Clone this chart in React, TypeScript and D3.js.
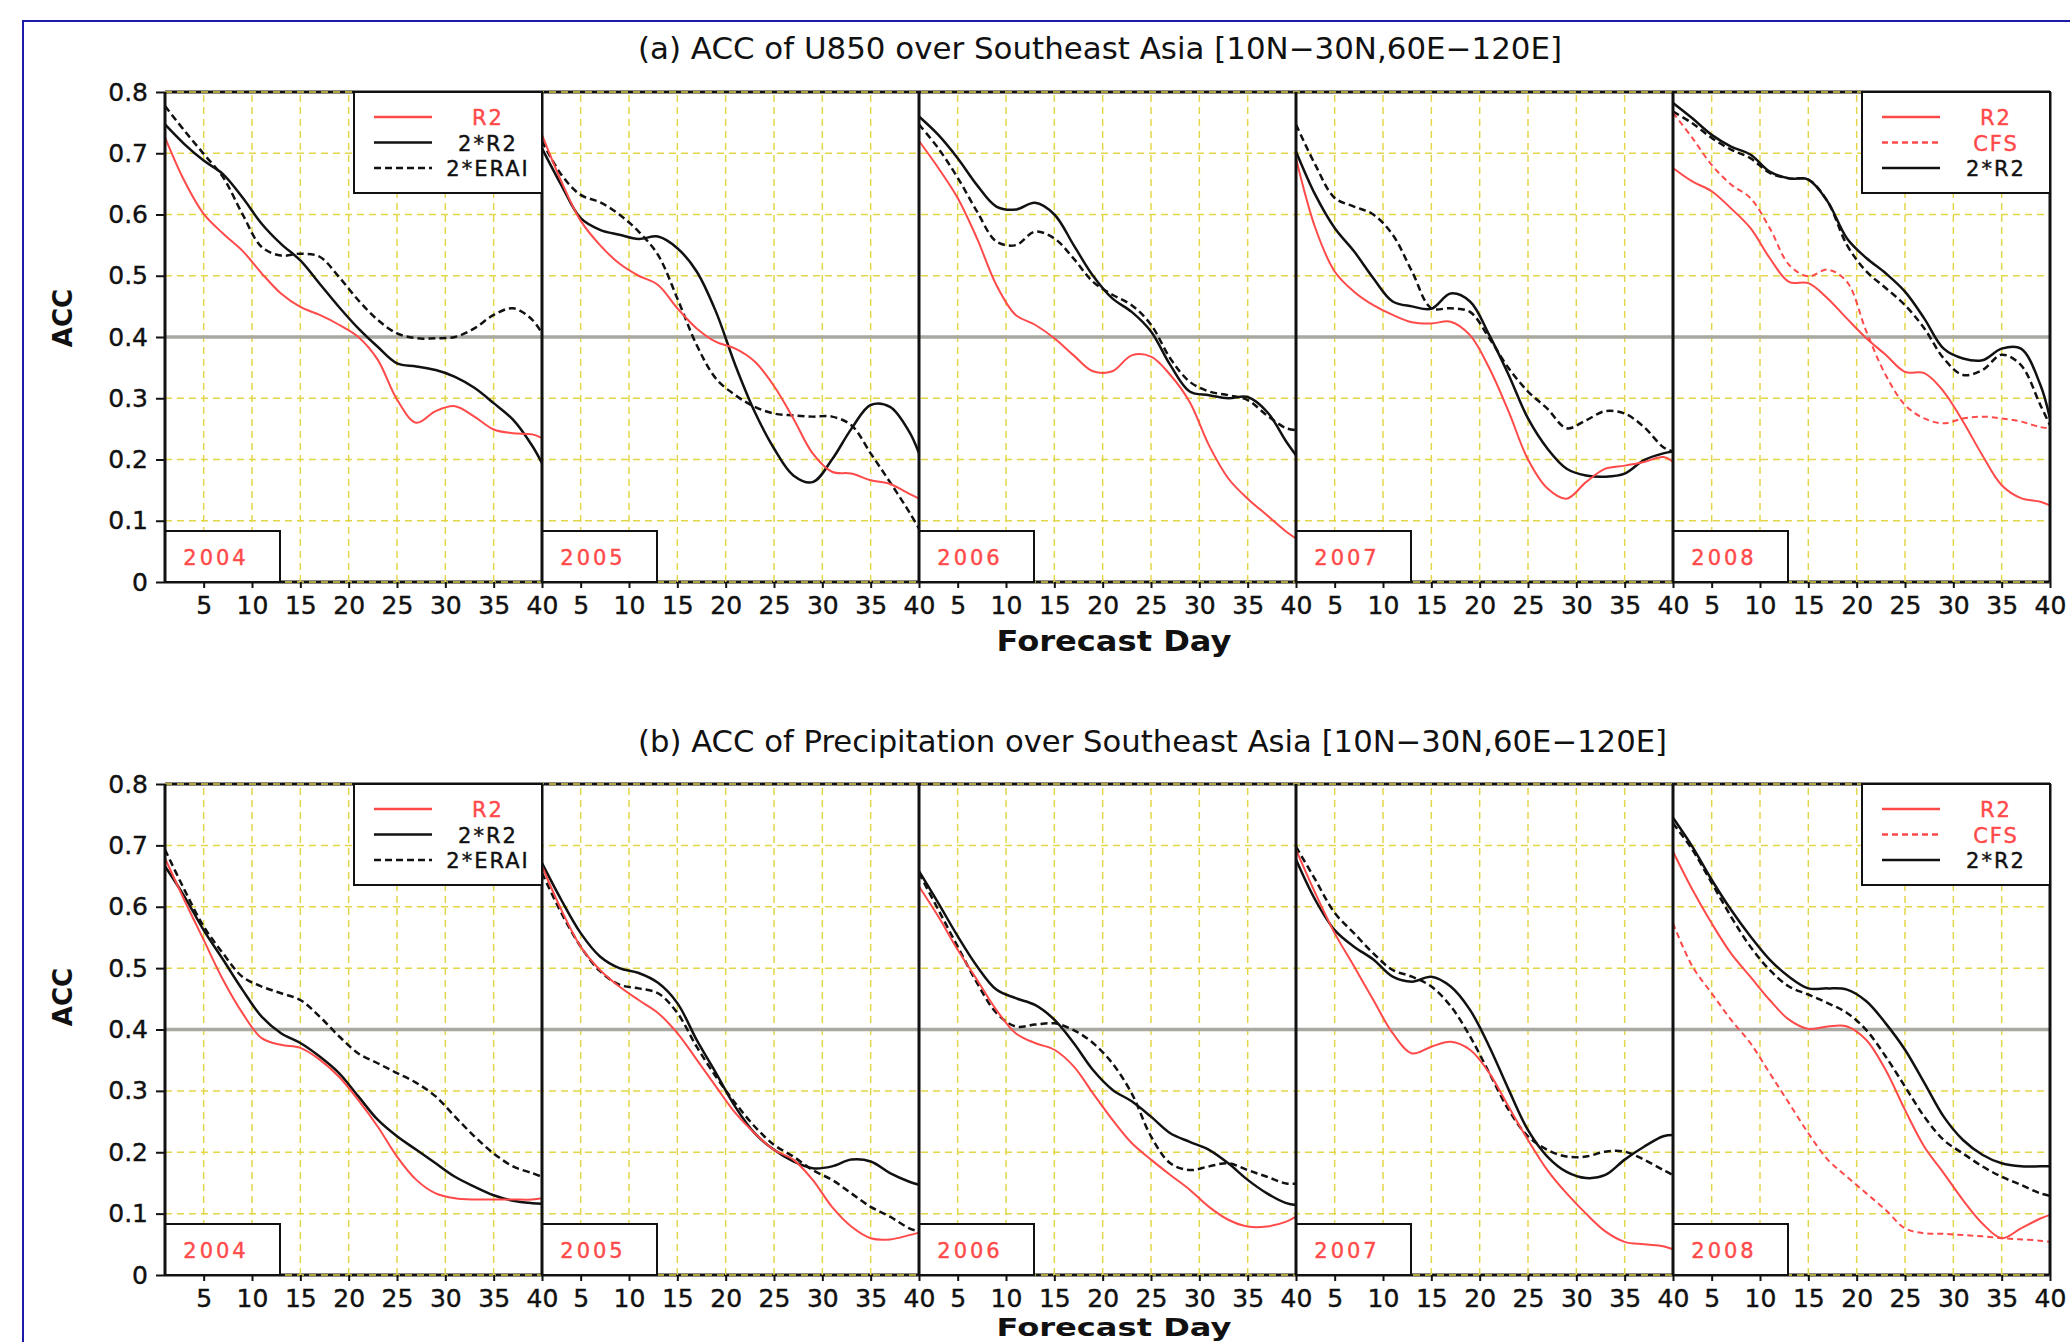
import React, { useEffect, useRef } from "react";
import * as d3 from "d3";

const DAYS = [1, 3, 5, 7, 9, 11, 13, 15, 17, 19, 21, 23, 25, 27, 29, 31, 33, 35, 37, 39, 40];
const YEARS = ["2004", "2005", "2006", "2007", "2008"];
const X_TICKS = [5, 10, 15, 20, 25, 30, 35, 40];
const Y_TICKS = [0, 0.1, 0.2, 0.3, 0.4, 0.5, 0.6, 0.7, 0.8];

const TITLE_A = "(a) ACC of U850 over Southeast Asia [10N\u221230N,60E\u2212120E]";
const TITLE_B = "(b) ACC of Precipitation over Southeast Asia [10N\u221230N,60E\u2212120E]";

// (a) U850, one row per year
const U850_R2 = [
  [0.726, 0.655, 0.601, 0.569, 0.541, 0.504, 0.471, 0.449, 0.436, 0.42, 0.4, 0.363, 0.298, 0.26, 0.279, 0.287, 0.27, 0.249, 0.243, 0.241, 0.235],
  [0.73, 0.654, 0.59, 0.55, 0.52, 0.5, 0.485, 0.447, 0.414, 0.392, 0.381, 0.36, 0.32, 0.267, 0.21, 0.18, 0.177, 0.166, 0.16, 0.144, 0.136],
  [0.72, 0.676, 0.627, 0.561, 0.485, 0.436, 0.42, 0.398, 0.37, 0.344, 0.344, 0.37, 0.368, 0.338, 0.294, 0.223, 0.169, 0.136, 0.109, 0.082, 0.071],
  [0.692, 0.578, 0.507, 0.474, 0.452, 0.436, 0.424, 0.422, 0.425, 0.403, 0.349, 0.278, 0.2, 0.153, 0.136, 0.163, 0.185, 0.19, 0.196, 0.204, 0.196],
  [0.676, 0.654, 0.638, 0.61, 0.578, 0.529, 0.49, 0.488, 0.463, 0.43, 0.398, 0.371, 0.343, 0.341, 0.311, 0.262, 0.207, 0.158, 0.137, 0.131, 0.125],
];
const U850_2R2 = [
  [0.747, 0.715, 0.688, 0.666, 0.628, 0.585, 0.552, 0.525, 0.487, 0.449, 0.414, 0.384, 0.357, 0.352, 0.346, 0.335, 0.317, 0.292, 0.265, 0.222, 0.194],
  [0.708, 0.648, 0.594, 0.575, 0.567, 0.56, 0.564, 0.545, 0.507, 0.441, 0.354, 0.278, 0.218, 0.174, 0.163, 0.2, 0.25, 0.289, 0.286, 0.245, 0.21],
  [0.76, 0.73, 0.692, 0.648, 0.613, 0.608, 0.619, 0.6, 0.55, 0.5, 0.463, 0.441, 0.409, 0.354, 0.311, 0.305, 0.3, 0.302, 0.278, 0.229, 0.207],
  [0.703, 0.632, 0.578, 0.54, 0.496, 0.458, 0.45, 0.446, 0.471, 0.458, 0.403, 0.338, 0.267, 0.218, 0.185, 0.174, 0.172, 0.177, 0.199, 0.21, 0.213],
  [0.782, 0.757, 0.73, 0.711, 0.698, 0.67, 0.659, 0.657, 0.621, 0.561, 0.529, 0.504, 0.474, 0.43, 0.381, 0.365, 0.362, 0.381, 0.381, 0.322, 0.267],
];
const U850_2ERAI = [
  [0.777, 0.737, 0.699, 0.661, 0.601, 0.547, 0.533, 0.536, 0.531, 0.498, 0.46, 0.428, 0.406, 0.398, 0.398, 0.4, 0.414, 0.436, 0.447, 0.428, 0.406],
  [0.72, 0.665, 0.632, 0.62, 0.6, 0.572, 0.534, 0.463, 0.387, 0.332, 0.305, 0.286, 0.275, 0.272, 0.27, 0.27, 0.256, 0.21, 0.163, 0.114, 0.087],
  [0.747, 0.708, 0.66, 0.605, 0.556, 0.55, 0.572, 0.561, 0.528, 0.49, 0.469, 0.452, 0.42, 0.365, 0.327, 0.311, 0.305, 0.297, 0.272, 0.251, 0.248],
  [0.747, 0.681, 0.627, 0.613, 0.6, 0.567, 0.507, 0.447, 0.447, 0.441, 0.398, 0.349, 0.311, 0.283, 0.251, 0.264, 0.279, 0.275, 0.253, 0.22, 0.213],
  [0.768, 0.749, 0.725, 0.706, 0.692, 0.668, 0.659, 0.657, 0.621, 0.55, 0.507, 0.48, 0.452, 0.414, 0.365, 0.338, 0.346, 0.371, 0.354, 0.289, 0.256],
];
const U850_CFS_2008 = [0.766, 0.725, 0.681, 0.649, 0.627, 0.578, 0.518, 0.499, 0.51, 0.49, 0.409, 0.338, 0.289, 0.267, 0.259, 0.267, 0.27, 0.267, 0.262, 0.253, 0.251];

// (b) precipitation, one row per year
const PRCP_R2 = [
  [0.679, 0.611, 0.546, 0.481, 0.427, 0.386, 0.375, 0.37, 0.351, 0.323, 0.285, 0.242, 0.193, 0.155, 0.133, 0.125, 0.123, 0.123, 0.123, 0.123, 0.125],
  [0.666, 0.595, 0.535, 0.497, 0.47, 0.448, 0.427, 0.394, 0.351, 0.307, 0.264, 0.231, 0.204, 0.188, 0.155, 0.111, 0.079, 0.06, 0.058, 0.065, 0.069],
  [0.633, 0.584, 0.53, 0.481, 0.432, 0.394, 0.378, 0.367, 0.34, 0.296, 0.253, 0.215, 0.188, 0.163, 0.139, 0.111, 0.09, 0.079, 0.079, 0.087, 0.095],
  [0.693, 0.622, 0.557, 0.503, 0.448, 0.394, 0.361, 0.372, 0.38, 0.367, 0.329, 0.274, 0.22, 0.171, 0.133, 0.1, 0.071, 0.054, 0.05, 0.047, 0.042],
  [0.69, 0.628, 0.573, 0.524, 0.486, 0.448, 0.416, 0.401, 0.405, 0.405, 0.383, 0.334, 0.269, 0.209, 0.166, 0.122, 0.084, 0.06, 0.076, 0.092, 0.098],
];
const PRCP_2R2 = [
  [0.666, 0.617, 0.562, 0.514, 0.465, 0.421, 0.394, 0.378, 0.356, 0.329, 0.291, 0.253, 0.226, 0.204, 0.182, 0.16, 0.144, 0.13, 0.121, 0.117, 0.116],
  [0.671, 0.611, 0.557, 0.519, 0.5, 0.492, 0.476, 0.443, 0.383, 0.329, 0.274, 0.231, 0.204, 0.185, 0.174, 0.177, 0.188, 0.185, 0.166, 0.152, 0.147],
  [0.658, 0.606, 0.552, 0.503, 0.465, 0.451, 0.44, 0.416, 0.378, 0.334, 0.302, 0.283, 0.258, 0.231, 0.217, 0.204, 0.182, 0.155, 0.133, 0.117, 0.114],
  [0.677, 0.611, 0.562, 0.535, 0.514, 0.486, 0.478, 0.486, 0.47, 0.432, 0.372, 0.302, 0.236, 0.193, 0.168, 0.158, 0.163, 0.188, 0.209, 0.226, 0.228],
  [0.745, 0.698, 0.644, 0.595, 0.552, 0.514, 0.486, 0.467, 0.467, 0.465, 0.446, 0.41, 0.367, 0.313, 0.258, 0.22, 0.196, 0.182, 0.177, 0.177, 0.177],
];
const PRCP_2ERAI = [
  [0.693, 0.628, 0.568, 0.524, 0.486, 0.47, 0.459, 0.448, 0.421, 0.389, 0.361, 0.345, 0.329, 0.313, 0.291, 0.258, 0.226, 0.198, 0.177, 0.166, 0.16],
  [0.655, 0.59, 0.535, 0.495, 0.473, 0.467, 0.459, 0.427, 0.372, 0.323, 0.28, 0.242, 0.212, 0.193, 0.171, 0.155, 0.133, 0.111, 0.095, 0.076, 0.071],
  [0.655, 0.595, 0.535, 0.476, 0.427, 0.405, 0.408, 0.41, 0.399, 0.378, 0.345, 0.296, 0.226, 0.182, 0.171, 0.177, 0.182, 0.171, 0.16, 0.149, 0.149],
  [0.698, 0.644, 0.59, 0.557, 0.524, 0.497, 0.486, 0.47, 0.438, 0.389, 0.329, 0.269, 0.226, 0.204, 0.193, 0.193, 0.201, 0.201, 0.188, 0.171, 0.163],
  [0.736, 0.693, 0.639, 0.584, 0.535, 0.497, 0.47, 0.457, 0.443, 0.427, 0.399, 0.356, 0.307, 0.258, 0.22, 0.198, 0.177, 0.16, 0.147, 0.133, 0.129],
];
const PRCP_CFS_2008 = [0.573, 0.503, 0.459, 0.416, 0.378, 0.329, 0.28, 0.231, 0.188, 0.16, 0.133, 0.106, 0.076, 0.068, 0.067, 0.065, 0.063, 0.06, 0.058, 0.056, 0.054];

const RED = "#ff4a4a";
const BLK = "#111";
const GRID = "#e3d64a";
const FONT = "'DejaVu Sans', sans-serif";

const LEFT = 165;
const PANEL_W = 377;

const BLOCKS = [
  { top: 92, bottom: 582, title: TITLE_A, titleY: 59, titleW: 924, accY: 318, labelY: 651, labelSize: 28, r2: U850_R2, r2x2: U850_2R2, erai: U850_2ERAI, cfs: U850_CFS_2008 },
  { top: 784, bottom: 1275, title: TITLE_B, titleY: 752, titleW: 1029, accY: 997, labelY: 1336, labelSize: 24, r2: PRCP_R2, r2x2: PRCP_2R2, erai: PRCP_2ERAI, cfs: PRCP_CFS_2008 },
];

function drawBlock(svg: any, blk: any) {
  const y = d3.scaleLinear().domain([0, 0.8]).range([blk.bottom, blk.top]);
  const px = d3.scaleLinear().domain([0, YEARS.length]).range([LEFT, LEFT + PANEL_W * YEARS.length]);
  const right = px(YEARS.length);
  const g = svg.append("g");

  // top / bottom frame
  [0, 0.8].forEach((v) => {
    g.append("line").attr("x1", LEFT).attr("x2", right).attr("y1", y(v)).attr("y2", y(v))
      .attr("stroke", BLK).attr("stroke-width", 3);
  });

  // grid
  YEARS.forEach((_, i) => {
    const x = d3.scaleLinear().domain([1, 40]).range([px(i), px(i + 1)]);
    X_TICKS.filter((t) => t < 40).forEach((t) => {
      g.append("line").attr("x1", x(t)).attr("x2", x(t)).attr("y1", y(0)).attr("y2", y(0.8))
        .attr("stroke", GRID).attr("stroke-width", 1.5).attr("stroke-dasharray", "7,5");
    });
  });
  Y_TICKS.forEach((v) => {
    g.append("line").attr("x1", LEFT).attr("x2", right).attr("y1", y(v)).attr("y2", y(v))
      .attr("stroke", GRID).attr("stroke-width", 1.5).attr("stroke-dasharray", "7,5");
  });

  // 0.4 reference line
  g.append("line").attr("x1", LEFT).attr("x2", right).attr("y1", y(0.4)).attr("y2", y(0.4))
    .attr("stroke", "#a9a9a2").attr("stroke-width", 3.5);

  // curves
  YEARS.forEach((yr, i) => {
    const x = d3.scaleLinear().domain([1, 40]).range([px(i), px(i + 1)]);
    const line = d3.line<number>().x((_, k) => x(DAYS[k])).y((d) => y(d)).curve(d3.curveCatmullRom);
    const series: any[] = [
      { vals: blk.erai[i], color: BLK, w: 2.5, dash: "7,4" },
      { vals: blk.r2x2[i], color: BLK, w: 2.5, dash: null },
    ];
    if (i === YEARS.length - 1) series.push({ vals: blk.cfs, color: RED, w: 2, dash: "6,4" });
    series.push({ vals: blk.r2[i], color: RED, w: 2, dash: null });
    series.forEach((s) => {
      g.append("path").datum(s.vals).attr("d", line).attr("fill", "none")
        .attr("stroke", s.color).attr("stroke-width", s.w)
        .attr("stroke-dasharray", s.dash);
    });

    // x axis of this panel
    g.append("g").attr("transform", `translate(0,${y(0)})`)
      .call(d3.axisBottom(x).tickValues(X_TICKS).tickSize(6).tickPadding(8).tickFormat(d3.format("d")))
      .call((ax: any) => ax.select(".domain").remove())
      .call((ax: any) => ax.selectAll("line").attr("stroke", BLK).attr("stroke-width", 2))
      .call((ax: any) => ax.selectAll("text").attr("fill", BLK).attr("stroke", BLK).attr("stroke-width", 0.4)
        .style("font-family", FONT).style("font-size", "25px"));

    // year box
    const yb = g.append("g").attr("transform", `translate(${px(i)},${y(0)})`);
    yb.append("rect").attr("x", 0).attr("y", -51).attr("width", 115).attr("height", 51)
      .attr("fill", "#fff").attr("stroke", BLK).attr("stroke-width", 2);
    yb.append("text").attr("x", 51).attr("y", -17).attr("text-anchor", "middle")
      .attr("fill", RED).attr("stroke", RED).attr("stroke-width", 0.4)
      .style("font-family", FONT).style("font-size", "21px").style("letter-spacing", "3px").text(yr);
  });

  // panel dividers
  d3.range(YEARS.length + 1).forEach((i) => {
    g.append("line").attr("x1", px(i)).attr("x2", px(i)).attr("y1", y(0.8)).attr("y2", y(0))
      .attr("stroke", BLK).attr("stroke-width", 3);
  });

  // y axis
  g.append("g").attr("transform", `translate(${LEFT},0)`)
    .call(d3.axisLeft(y).tickValues(Y_TICKS).tickSize(9).tickPadding(8)
      .tickFormat((d: any) => (d === 0 ? "0" : d3.format(".1f")(d))))
    .call((ax: any) => ax.select(".domain").remove())
    .call((ax: any) => ax.selectAll("line").attr("stroke", BLK).attr("stroke-width", 2))
    .call((ax: any) => ax.selectAll("text").attr("fill", BLK).attr("stroke", BLK).attr("stroke-width", 0.4)
      .style("font-family", FONT).style("font-size", "25px"));

  // legends
  const legends = [
    { panel: 0, items: [["R2", RED, null], ["2*R2", BLK, null], ["2*ERAI", BLK, "7,4"]] },
    { panel: YEARS.length - 1, items: [["R2", RED, null], ["CFS", RED, "6,4"], ["2*R2", BLK, null]] },
  ];
  legends.forEach((lg) => {
    const r = px(lg.panel + 1);
    const lgG = g.append("g").attr("transform", `translate(${r - 188},${y(0.8)})`);
    lgG.append("rect").attr("width", 188).attr("height", 101).attr("fill", "#fff")
      .attr("stroke", BLK).attr("stroke-width", 2);
    lg.items.forEach((it: any, k: number) => {
      const yy = 25 + k * 25.5;
      lgG.append("line").attr("x1", 20).attr("x2", 78).attr("y1", yy).attr("y2", yy)
        .attr("stroke", it[1]).attr("stroke-width", it[1] === RED ? 2.5 : 2.4)
        .attr("stroke-dasharray", it[2]);
      lgG.append("text").attr("x", 134).attr("y", yy + 8).attr("text-anchor", "middle")
        .attr("fill", it[1]).attr("stroke", it[1]).attr("stroke-width", 0.4)
        .style("font-family", FONT).style("font-size", "21px").style("letter-spacing", "2px").text(it[0]);
    });
  });

  // titles and axis labels
  svg.append("text").attr("x", 638).attr("y", blk.titleY).attr("textLength", blk.titleW)
    .attr("lengthAdjust", "spacingAndGlyphs").attr("fill", BLK)
    .style("font-family", FONT).style("font-size", "30px").text(blk.title);
  svg.append("text").attr("transform", `translate(72,${blk.accY}) rotate(-90)`)
    .attr("text-anchor", "middle").attr("fill", BLK)
    .style("font-family", FONT).style("font-size", "26px").style("font-weight", "bold").text("ACC");
  svg.append("text").attr("x", 1114).attr("y", blk.labelY).attr("text-anchor", "middle")
    .attr("textLength", 235).attr("lengthAdjust", "spacingAndGlyphs").attr("fill", BLK)
    .style("font-family", FONT).style("font-size", `${blk.labelSize}px`).style("font-weight", "bold").text("Forecast Day");
}

export default function App() {
  const ref = useRef<SVGSVGElement>(null);

  useEffect(() => {
    const svg = d3.select(ref.current);
    svg.selectAll("*").remove();

    svg.append("rect").attr("width", 2070).attr("height", 1342).attr("fill", "#fff");
    // blue outer frame
    svg.append("rect").attr("x", 23).attr("y", 21).attr("width", 2200).attr("height", 2000)
      .attr("fill", "none").attr("stroke", "#1c1ca8").attr("stroke-width", 2);

    BLOCKS.forEach((b) => drawBlock(svg, b));
  }, []);

  return (
    <svg
      ref={ref}
      width={2070}
      height={1342}
      style={{ position: "absolute", left: 0, top: 0 }}
    ></svg>
  );
}
